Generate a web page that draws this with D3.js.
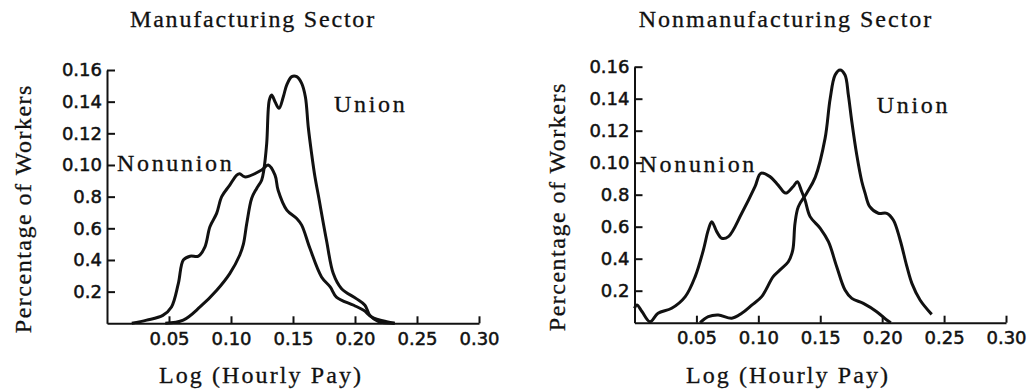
<!DOCTYPE html>
<html>
<head>
<meta charset="utf-8">
<script src="https://cdn.jsdelivr.net/npm/d3@7"></script>
<style>
  body { margin: 0; background: #fff; }
  svg { display: block; }
</style>
</head>
<body>
<div id="chart"></div>
<script>
// tick values and their printed labels (labels kept as printed in the original)
const yTicks = [0.02, 0.04, 0.06, 0.08, 0.10, 0.12, 0.14, 0.16];
const yTickLabels = ["0.2", "0.4", "0.6", "0.8", "0.10", "0.12", "0.14", "0.16"];
const xTicks = [0.05, 0.10, 0.15, 0.20, 0.25, 0.30];
const xTickLabels = ["0.05", "0.10", "0.15", "0.20", "0.25", "0.30"];

// Manufacturing sector
const mfgNonunionPay = [0.020, 0.032, 0.045, 0.052, 0.0575, 0.0616, 0.067, 0.0737, 0.079, 0.083, 0.0884, 0.0925, 0.099, 0.1046, 0.107, 0.111, 0.1247, 0.130, 0.1355, 0.138, 0.145, 0.153, 0.157, 0.1637, 0.173, 0.180, 0.185, 0.199, 0.207, 0.2135, 0.2255, 0.232];
const mfgNonunionShare = [0, 0.002, 0.005, 0.0103, 0.025, 0.040, 0.0424, 0.0424, 0.0483, 0.061, 0.0694, 0.080, 0.0873, 0.0936, 0.0945, 0.0925, 0.0968, 0.100, 0.0936, 0.084, 0.0715, 0.0662, 0.062, 0.0472, 0.0293, 0.023, 0.0166, 0.0114, 0.0082, 0.004, 0.001, 0];
const mfgUnionPay = [0.047, 0.0615, 0.075, 0.0885, 0.099, 0.107, 0.110, 0.1127, 0.1167, 0.1207, 0.1247, 0.1265, 0.1288, 0.1309, 0.1328, 0.1355, 0.1387, 0.1422, 0.1449, 0.149, 0.153, 0.157, 0.160, 0.1623, 0.165, 0.1677, 0.1704, 0.177, 0.1825, 0.189, 0.201, 0.208, 0.212, 0.219, 0.232];
const mfgUnionShare = [0, 0.002, 0.0103, 0.0209, 0.0314, 0.043, 0.050, 0.063, 0.079, 0.0852, 0.0904, 0.097, 0.1137, 0.141, 0.1442, 0.140, 0.1358, 0.1431, 0.1505, 0.1558, 0.1558, 0.1516, 0.143, 0.124, 0.1072, 0.0925, 0.081, 0.0525, 0.0314, 0.022, 0.0156, 0.0114, 0.005, 0.001, 0];

// Nonmanufacturing sector
const nonmfgNonunionPay = [0.000, 0.002, 0.006, 0.0125, 0.019, 0.030, 0.041, 0.049, 0.0556, 0.0596, 0.0624, 0.0664, 0.0704, 0.0758, 0.0866, 0.0973, 0.102, 0.1094, 0.116, 0.122, 0.128, 0.1315, 0.135, 0.1377, 0.1418, 0.150, 0.1566, 0.1633, 0.170, 0.1755, 0.1848, 0.1956, 0.2037, 0.207];
const nonmfgNonunionShare = [0.009, 0.011, 0.007, 0.0006, 0.0059, 0.009, 0.0163, 0.0288, 0.0454, 0.058, 0.0631, 0.0569, 0.0528, 0.0538, 0.0684, 0.085, 0.0934, 0.0913, 0.086, 0.081, 0.085, 0.0881, 0.082, 0.0767, 0.0663, 0.059, 0.0506, 0.035, 0.0204, 0.0152, 0.0121, 0.0069, 0.0017, 0];
const nonmfgUnionPay = [0.053, 0.0596, 0.0677, 0.0785, 0.0866, 0.0947, 0.1027, 0.112, 0.1175, 0.1242, 0.1278, 0.1296, 0.1323, 0.139, 0.146, 0.1539, 0.158, 0.162, 0.166, 0.170, 0.1727, 0.1755, 0.1795, 0.1836, 0.1862, 0.190, 0.1969, 0.2037, 0.209, 0.2145, 0.220, 0.224, 0.2306, 0.240];
const nonmfgUnionShare = [0, 0.0038, 0.0048, 0.0028, 0.0059, 0.011, 0.0163, 0.0288, 0.033, 0.0381, 0.0454, 0.0621, 0.0725, 0.0809, 0.091, 0.1152, 0.140, 0.1548, 0.158, 0.1548, 0.1423, 0.1256, 0.1048, 0.0881, 0.081, 0.0725, 0.0684, 0.0684, 0.0642, 0.0517, 0.035, 0.0246, 0.0142, 0.0052];

const width = 1030, height = 392;
const serif = "'Liberation Serif', 'Times New Roman', serif";
const sans = "'DejaVu Sans', sans-serif";

const svg = d3.select("#chart").append("svg")
  .attr("width", width)
  .attr("height", height);

function zip(xs, ys) {
  return xs.map((x, i) => ({ x: x, y: ys[i] }));
}

// serif caption text, slightly thickened to look like the printed figure
function caption(sel, spacing) {
  return sel
    .attr("font-family", serif)
    .attr("font-size", "24px")
    .attr("letter-spacing", spacing + "px")
    .attr("fill", "#111")
    .attr("stroke", "#111")
    .attr("stroke-width", 0.3);
}

function drawPanel(opts) {
  const x = d3.scaleLinear().domain([0, 0.30]).range(opts.xRange);
  const y = d3.scaleLinear().domain([0, 0.16]).range(opts.yRange);
  const g = svg.append("g");

  // title
  g.append("text")
    .attr("x", opts.titleX)
    .attr("y", 27)
    .attr("text-anchor", "middle")
    .call(caption, opts.titleSpacing)
    .text(opts.title);

  // x axis (ticks point up into the plot)
  const xAxis = g.append("g")
    .attr("transform", `translate(0,${y(0)})`)
    .call(d3.axisBottom(x).tickValues(xTicks).tickSizeInner(-7).tickSizeOuter(0)
      .tickFormat((d, i) => xTickLabels[i]));
  xAxis.select(".domain").attr("stroke", "#111").attr("stroke-width", 2);
  xAxis.selectAll(".tick line").attr("stroke", "#111").attr("stroke-width", 2);
  xAxis.selectAll(".tick text")
    .attr("y", 9)
    .attr("dy", "0.71em")
    .attr("font-family", sans)
    .attr("font-size", "18px")
    .attr("fill", "#111")
    .attr("stroke", "#111")
    .attr("stroke-width", 0.5);

  // y axis (ticks point right into the plot)
  const yAxis = g.append("g")
    .attr("transform", `translate(${x(0)},0)`)
    .call(d3.axisLeft(y).tickValues(yTicks).tickSizeInner(-8).tickSizeOuter(0)
      .tickFormat((d, i) => yTickLabels[i]));
  yAxis.select(".domain").attr("stroke", "#111").attr("stroke-width", 2);
  yAxis.selectAll(".tick line").attr("stroke", "#111").attr("stroke-width", 2);
  yAxis.selectAll(".tick text")
    .attr("x", -5)
    .attr("font-family", sans)
    .attr("font-size", "18px")
    .attr("fill", "#111")
    .attr("stroke", "#111")
    .attr("stroke-width", 0.5);

  // axis titles
  g.append("text")
    .attr("transform", `translate(${opts.yLabelX},${(opts.yRange[0] + opts.yRange[1]) / 2 + 12}) rotate(-90)`)
    .attr("text-anchor", "middle")
    .call(caption, 1.5)
    .text("Percentage of Workers");

  g.append("text")
    .attr("x", opts.xLabelX)
    .attr("y", 383)
    .attr("text-anchor", "middle")
    .call(caption, 2.1)
    .text("Log (Hourly Pay)");

  // curves
  const line = d3.line()
    .x(d => x(d.x))
    .y(d => y(d.y))
    .curve(d3.curveCatmullRom.alpha(0.5));

  g.selectAll(".curve")
    .data(opts.series)
    .enter()
    .append("path")
    .attr("class", "curve")
    .attr("d", d => line(zip(d.pay, d.share)))
    .attr("fill", "none")
    .attr("stroke", "#111")
    .attr("stroke-width", 3)
    .attr("stroke-linejoin", "round");

  // series labels
  g.selectAll(".series-label")
    .data(opts.series)
    .enter()
    .append("text")
    .attr("class", "series-label")
    .attr("x", d => x(d.labelAt[0]))
    .attr("y", d => y(d.labelAt[1]))
    .call(caption, 2.7)
    .text(d => d.name);
}

drawPanel({
  title: "Manufacturing Sector",
  titleX: 253,
  titleSpacing: 1.8,
  xRange: [107, 479],
  yRange: [323.3, 70],
  yLabelX: 31,
  xLabelX: 261,
  series: [
    { name: "Nonunion", pay: mfgNonunionPay, share: mfgNonunionShare, labelAt: [0.008, 0.0959] },
    { name: "Union", pay: mfgUnionPay, share: mfgUnionShare, labelAt: [0.183, 0.1335] }
  ]
});

drawPanel({
  title: "Nonmanufacturing Sector",
  titleX: 786,
  titleSpacing: 2.0,
  xRange: [634.5, 1006],
  yRange: [322.7, 66.7],
  yLabelX: 565,
  xLabelX: 788,
  series: [
    { name: "Nonunion", pay: nonmfgNonunionPay, share: nonmfgNonunionShare, labelAt: [0.004, 0.0944] },
    { name: "Union", pay: nonmfgUnionPay, share: nonmfgUnionShare, labelAt: [0.1956, 0.131] }
  ]
});
</script>
</body>
</html>
